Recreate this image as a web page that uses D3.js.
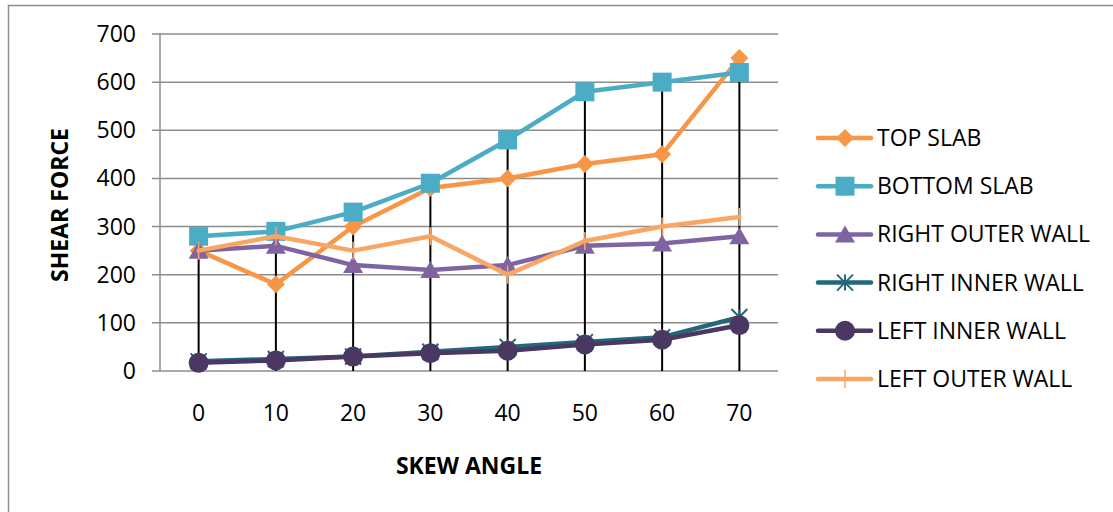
<!DOCTYPE html>
<html><head><meta charset="utf-8">
<script src="https://cdn.jsdelivr.net/npm/d3@7"></script>
<style>
body{margin:0;background:#fff;}
text{font-family:"Open Sans",sans-serif;fill:#000;}
</style></head>
<body><svg id="c" width="1113" height="512"></svg>
<script>
const categories = ["0","10","20","30","40","50","60","70"];
const seriesNames = ["TOP SLAB","BOTTOM SLAB","RIGHT OUTER WALL","RIGHT INNER WALL","LEFT INNER WALL","LEFT OUTER WALL"];
const topSlab = [250,180,300,380,400,430,450,650];
const bottomSlab = [280,290,330,390,480,580,600,620];
const rightOuterWall = [250,260,220,210,220,260,265,280];
const rightInnerWall = [20,25,30,40,50,60,70,112];
const leftInnerWall = [17,22,30,37,42,55,65,95];
const leftOuterWall = [250,280,250,280,200,270,300,320];
const yTicks = [0,100,200,300,400,500,600,700];

const colors = ["#F79646","#4BACC6","#8064A2","#21687A","#4A3762","#F9A664"];
const markers = ["diamond","square","triangle","asterisk","circle","plus"];
const seriesValues = [topSlab,bottomSlab,rightOuterWall,rightInnerWall,leftInnerWall,leftOuterWall];

const svg = d3.select("#c");
const L = 160, R = 778, T = 34, B = 371;

// chart border
svg.append("rect").attr("x",8.5).attr("y",5.5).attr("width",1200).attr("height",600)
  .attr("fill","none").attr("stroke","#8c8c8c").attr("stroke-width",1.5);

const x = d3.scaleBand().domain(categories).range([L,R]);
const y = d3.scaleLinear().domain([0,700]).range([B,T]);

// gridlines
svg.append("g").selectAll("line").data(yTicks).join("line")
  .attr("x1",L-8).attr("x2",R).attr("y1",d=>y(d)).attr("y2",d=>y(d))
  .attr("stroke","#8c8c8c").attr("stroke-width",1.5);
// y axis line
svg.append("line").attr("x1",L).attr("x2",L).attr("y1",T).attr("y2",B)
  .attr("stroke","#8c8c8c").attr("stroke-width",1.5);

// y tick labels
svg.append("g").selectAll("text").data(yTicks).join("text")
  .attr("x",L-24).attr("y",d=>y(d)).attr("dy","0.35em").attr("text-anchor","end")
  .style("font-size","23px").text(d=>d);
// x tick labels
svg.append("g").selectAll("text").data(categories).join("text")
  .attr("x",d=>x(d)+x.bandwidth()/2).attr("y",B+42).attr("dy","0.35em").attr("text-anchor","middle")
  .style("font-size","23px").text(d=>d);

// drop lines (from highest series value down to axis)
const maxVals = categories.map((c,i)=>d3.max(seriesValues,s=>s[i]));
svg.append("g").selectAll("line").data(categories).join("line")
  .attr("x1",d=>x(d)+x.bandwidth()/2).attr("x2",d=>x(d)+x.bandwidth()/2)
  .attr("y1",(d,i)=>y(maxVals[i])).attr("y2",B)
  .attr("stroke","#000").attr("stroke-width",2);

function drawMarker(g, type, cx, cy, color){
  if(type==="diamond"){
    g.append("path").attr("d",`M${cx},${cy-9}L${cx+9},${cy}L${cx},${cy+9}L${cx-9},${cy}Z`).attr("fill",color);
  } else if(type==="square"){
    g.append("rect").attr("x",cx-9.5).attr("y",cy-9.5).attr("width",19).attr("height",19).attr("fill",color);
  } else if(type==="triangle"){
    g.append("path").attr("d",`M${cx},${cy-9}L${cx+10},${cy+8}L${cx-10},${cy+8}Z`).attr("fill",color);
  } else if(type==="circle"){
    g.append("circle").attr("cx",cx).attr("cy",cy).attr("r",10).attr("fill",color);
  } else if(type==="asterisk"){
    const s=8;
    g.append("path").attr("d",`M${cx-s},${cy-s}L${cx+s},${cy+s}M${cx-s},${cy+s}L${cx+s},${cy-s}M${cx},${cy-s}L${cx},${cy+s}`)
      .attr("stroke",color).attr("stroke-width",2).attr("fill","none");
  } else if(type==="plus"){
    g.append("path").attr("d",`M${cx},${cy-9}L${cx},${cy+9}`)
      .attr("stroke",color).attr("stroke-width",1.5).attr("fill","none");
  }
}

const line = d3.line().x((d,i)=>x(categories[i])+x.bandwidth()/2).y(d=>y(d));
seriesValues.forEach((vals,si)=>{
  const g = svg.append("g");
  g.append("path").datum(vals).attr("d",line).attr("fill","none")
    .attr("stroke",colors[si]).attr("stroke-width",4.5).attr("stroke-linejoin","round").attr("stroke-linecap","round");
  vals.forEach((v,i)=>drawMarker(g,markers[si],x(categories[i])+x.bandwidth()/2,y(v),colors[si]));
});

// legend
const legY0 = 138, legStep = 48.2;
seriesNames.forEach((n,si)=>{
  const g = svg.append("g");
  const ly = legY0 + si*legStep;
  g.append("line").attr("x1",818).attr("x2",871).attr("y1",ly).attr("y2",ly)
    .attr("stroke",colors[si]).attr("stroke-width",4.5).attr("stroke-linecap","round");
  drawMarker(g,markers[si],845,ly,colors[si]);
  g.append("text").attr("x",877).attr("y",ly).attr("dy","0.35em").style("font-size","23px").text(n);
});

// axis titles
svg.append("text").attr("x",469).attr("y",466).attr("dy","0.35em").attr("text-anchor","middle")
  .style("font-size","23px").style("font-weight","bold").text("SKEW ANGLE");
svg.append("text").attr("transform","translate(60,205) rotate(-90)").attr("dy","0.35em").attr("text-anchor","middle")
  .style("font-size","23px").style("font-weight","bold").text("SHEAR FORCE");
</script></body></html>
